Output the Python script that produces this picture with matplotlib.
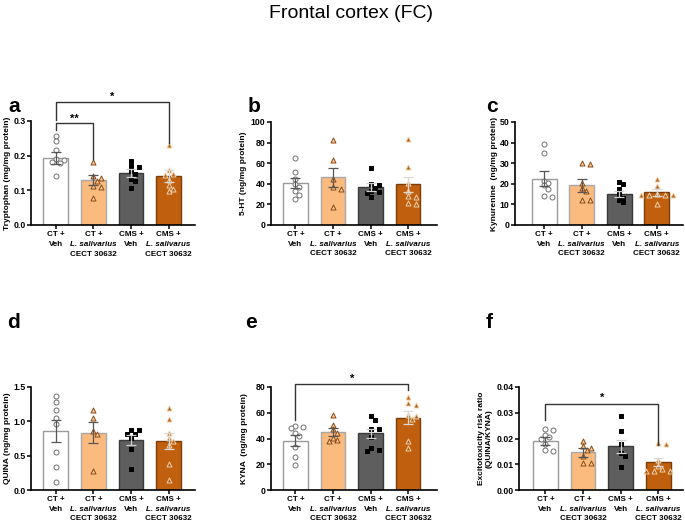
import numpy as np
import matplotlib
matplotlib.use("Agg")
import matplotlib.pyplot as plt
from matplotlib.transforms import blended_transform_factory

plt.rcParams["font.family"] = ["Liberation Sans", "DejaVu Sans"]
plt.rcParams["font.weight"] = "bold"

W, H = 685, 523

# groupes
GROUPS = ["CT Veh", "CT L", "CMS Veh", "CMS L"]
LABEL_LINES = [
    ("CT +", "Veh", None),
    ("CT +", "L. salivarius", "CECT 30632"),
    ("CMS +", "Veh", None),
    ("CMS +", "L. salivarus", "CECT 30632"),
]

# a - Tryptophan
trp_mean = [0.193, 0.129, 0.150, 0.141]
trp_sem = [0.017, 0.014, 0.011, 0.017]
trp_pts = [
    [0.256, 0.243, 0.188, 0.190, 0.183, 0.178, 0.215, 0.140],
    [0.181, 0.140, 0.135, 0.128, 0.113, 0.109, 0.078],
    [0.186, 0.171, 0.166, 0.157, 0.147, 0.134, 0.126, 0.106],
    [0.230, 0.158, 0.145, 0.147, 0.131, 0.116, 0.097, 0.104],
]
# b - 5-HT
ht_mean = [40.5, 46.3, 36.7, 39.5]
ht_sem = [4.7, 9.5, 3.6, 7.5]
ht_pts = [
    [64.6, 51.0, 44.7, 39.9, 37.3, 33.0, 29.0, 25.4],
    [82.3, 63.0, 44.4, 36.7, 35.4, 17.7],
    [55.3, 40.0, 36.0, 33.0, 32.0, 31.0, 27.0, 39.0],
    [83.3, 56.0, 40.5, 33.4, 28.3, 26.7, 20.6, 21.2],
]
# c - Kynurenine
kyn_mean = [22.5, 19.2, 15.0, 15.8]
kyn_sem = [3.6, 3.0, 1.6, 1.7]
kyn_pts = [
    [39.5, 35.0, 21.5, 20.3, 19.3, 17.5, 14.3, 13.5],
    [30.2, 29.6, 20.3, 17.8, 16.6, 12.2, 12.1],
    [21.0, 19.8, 17.4, 15.0, 13.3, 12.2, 11.0],
    [22.3, 19.1, 15.0, 14.6, 14.6, 14.6, 14.5, 10.3],
]
# d - QUINA
quina_mean = [0.856, 0.837, 0.726, 0.716]
quina_sem = [0.160, 0.155, 0.075, 0.120]
quina_pts = [
    [1.37, 1.28, 1.17, 1.055, 0.96, 0.547, 0.33, 0.12],
    [1.17, 1.05, 0.856, 0.82, 0.28],
    [0.88, 0.87, 0.81, 0.82, 0.76, 0.60, 0.31],
    [1.20, 1.03, 0.832, 0.76, 0.71, 0.65, 0.377, 0.145],
]
# e - KYNA
kyna_mean = [38.2, 45.2, 43.9, 56.0]
kyna_sem = [4.4, 3.1, 3.8, 5.0]
kyna_pts = [
    [49.5, 49.0, 48.0, 44.0, 42.0, 33.5, 25.3, 19.1],
    [58.6, 50.8, 47.0, 43.9, 38.7, 37.9, 40.5],
    [57.3, 54.7, 47.7, 47.0, 41.3, 32.3, 30.5, 31.0],
    [72.3, 67.6, 66.3, 58.0, 55.0, 38.0, 33.0, 57.5],
]
# f - QUINA/KYNA
ratio_mean = [0.0191, 0.0147, 0.0170, 0.0110]
ratio_sem = [0.0015, 0.0017, 0.0026, 0.0016]
ratio_pts = [
    [0.0235, 0.0232, 0.0215, 0.0204, 0.0197, 0.0180, 0.0152, 0.0155],
    [0.0190, 0.0170, 0.0155, 0.0132, 0.0106, 0.0106, 0.0165],
    [0.0286, 0.0228, 0.0178, 0.0142, 0.0132, 0.0090],
    [0.0178, 0.0183, 0.0116, 0.0094, 0.0074, 0.0074, 0.0074, 0.0080],
]

BAR_FACE = ["#ffffff", "#fbba7e", "#5e5e5e", "#c0600e"]
BAR_EDGE = ["#9a9a9a", "#a8a8a8", "#3a3a3a", "#7a3d08"]
ERR_COLOR = ["#555555", "#555555", "#d0d0d0", "#d8d8d8"]
PT_MARKER = ["o", "^", "s", "^"]
PT_SIZE = [13, 13, 9, 13]
PT_FACE = ["#ffffff", "#fbc896", "#000000", "#b0601e"]
PT_EDGE = ["#707070", "#8a4a14", "#000000", "#f3cfa4"]


def swarm(values, ymax, ax_h_px, step_px=4.0, min_px=4.4):
    # petit beeswarm deterministe (en pixels)
    ys = np.array(values) / ymax * ax_h_px
    order = np.argsort(-ys)
    placed = []
    offs = np.zeros(len(ys))
    cands = [0]
    for k in range(1, 8):
        cands += [k * step_px, -k * step_px]
    for i in order:
        for c in cands:
            ok = all((c - px) ** 2 + (ys[i] - py) ** 2 >= min_px ** 2 for px, py in placed)
            if ok:
                offs[i] = c
                placed.append((c, ys[i]))
                break
    return offs


def panel(rect, xlim, means, sems, pts, ymax, yticks, fmt, ylabel, ylab_x):
    ax = fig.add_axes([rect[0] / W, 1 - (rect[1] + rect[3]) / H, rect[2] / W, rect[3] / H])
    x = np.arange(4)
    ax.bar(x, means, width=0.66, color=BAR_FACE, edgecolor=BAR_EDGE, linewidth=1.0, zorder=2)
    px_per_unit = rect[2] / (xlim[1] - xlim[0])
    for i in range(4):
        offs = swarm(pts[i], ymax, rect[3]) / px_per_unit
        ax.scatter(x[i] + offs, pts[i], marker=PT_MARKER[i], s=PT_SIZE[i], facecolor=PT_FACE[i],
                   edgecolor=PT_EDGE[i], linewidth=0.7, zorder=4, clip_on=False)
        ax.errorbar(x[i], means[i], yerr=sems[i], color=ERR_COLOR[i], capsize=3.5,
                    elinewidth=0.9, capthick=0.9, zorder=5)
    ax.set_xlim(*xlim)
    ax.set_ylim(0, ymax)
    ax.set_yticks(yticks)
    ax.set_yticklabels([fmt.format(v) for v in yticks], fontsize=6.3, fontweight="bold")
    ax.set_xticks(x)
    ax.set_xticklabels([])
    for s in ["top", "right"]:
        ax.spines[s].set_visible(False)
    for s in ["left", "bottom"]:
        ax.spines[s].set_linewidth(1.2)
    ax.tick_params(width=1.1, length=3.0, pad=1.0)
    ax.set_ylabel(ylabel, fontsize=6.0, fontweight="bold", linespacing=1.1)
    ax.yaxis.set_label_coords(ylab_x, 0.5)
    tr = blended_transform_factory(ax.transData, ax.transAxes)
    for i, lines in enumerate(LABEL_LINES):
        for j, t in enumerate(lines):
            if t is None:
                continue
            ax.text(x[i], -0.095 - j * 0.093, t, transform=tr, ha="center", va="center",
                    fontsize=5.8, fontweight="bold",
                    style="italic" if t.startswith("L.") else "normal")
    return ax


def bracket(ax, x0, x1, y, y0, y1, star, ystar):
    ax.plot([x0, x0, x1, x1], [y0, y, y, y1], color="#333333", lw=1.0, clip_on=False, zorder=6)
    ax.text((x0 + x1) / 2, ystar, star, ha="center", va="center", fontsize=8,
            fontweight="bold", clip_on=False)


fig = plt.figure(figsize=(W / 100, H / 100), dpi=100)

ax_a = panel((31, 121, 164, 104), (-0.66, 3.7), trp_mean, trp_sem, trp_pts, 0.3,
             [0.0, 0.1, 0.2, 0.3], "{:.1f}", "Tryptophan (mg/mg protein)", -0.122)
bracket(ax_a, 0, 1, 0.294, 0.275, 0.19, "**", 0.307)
bracket(ax_a, 0, 3, 0.354, 0.304, 0.237, "*", 0.369)

panel((271, 122, 166, 103), (-0.65, 3.77), ht_mean, ht_sem, ht_pts, 100,
      [0, 20, 40, 60, 80, 100], "{:.0f}", "5-HT (ng/mg protein)", -0.145)

panel((515, 122, 168, 103), (-0.78, 3.7), kyn_mean, kyn_sem, kyn_pts, 50,
      [0, 10, 20, 30, 40, 50], "{:.0f}", "Kynurenine  (ng/mg protein)", -0.1)

panel((31, 387, 164, 103), (-0.66, 3.7), quina_mean, quina_sem, quina_pts, 1.5,
      [0.0, 0.5, 1.0, 1.5], "{:.1f}", "QUINA (ng/mg protein)", -0.122)

ax_e = panel((271, 387, 166, 103), (-0.65, 3.77), kyna_mean, kyna_sem, kyna_pts, 80,
             [0, 20, 40, 60, 80], "{:.0f}", "KYNA  (ng/mg protein)", -0.139)
bracket(ax_e, 0, 3, 82.6, 54, 77.4, "*", 86.5)

ax_f = panel((519, 387, 164, 103), (-0.7, 3.66), ratio_mean, ratio_sem, ratio_pts, 0.04,
             [0.00, 0.01, 0.02, 0.03, 0.04], "{:.2f}",
             "Excitotoxicity risk ratio\n(QUINA/KYNA)", -0.16)
bracket(ax_f, 0, 3, 0.0335, 0.0271, 0.0174, "*", 0.0358)

fig.text(351 / W, 1 - 13 / H, "Frontal cortex (FC)", ha="center", va="center",
         fontsize=14, fontweight="normal")
for letter, (lx, ly) in zip("abcdef", [(14, 107), (254, 107), (492, 107),
                                        (14, 323), (251, 323), (489, 323)]):
    fig.text(lx / W, 1 - ly / H, letter, ha="center", va="center", fontsize=15,
             fontweight="bold")

fig.savefig("out.png", dpi=100, facecolor="white")
